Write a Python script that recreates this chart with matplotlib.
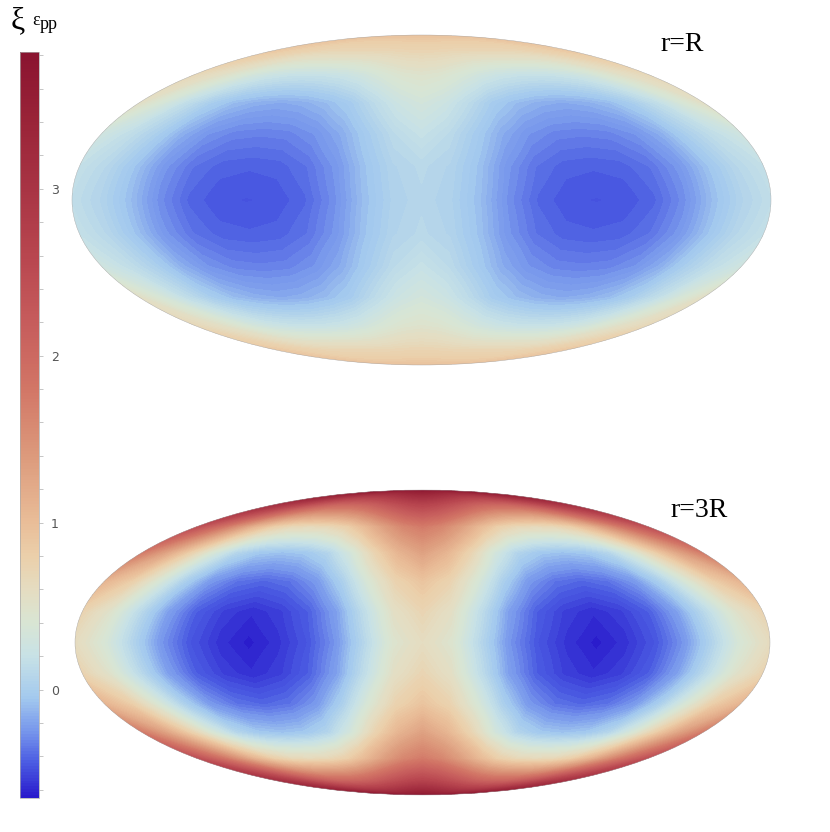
import numpy as np
import matplotlib
matplotlib.use("Agg")
import matplotlib.pyplot as plt
from matplotlib.colors import LinearSegmentedColormap, Normalize
from matplotlib.ticker import MultipleLocator
from matplotlib.cm import ScalarMappable

# grid nodes (degrees) of one quadrant, the rest is mirrored
lat_nodes = [0, 15, 30, 45, 60, 75, 90]
lon_nodes = [0, 15, 30, 45, 60, 75, 90, 105, 120, 135, 150, 165, 180]

xi_r1 = [
    [0.08, 0.03, -0.10, -0.28, -0.40, -0.45, -0.46, -0.45, -0.40, -0.28, -0.10, 0.05, 0.15],
    [0.10, 0.05, -0.08, -0.25, -0.36, -0.41, -0.42, -0.41, -0.36, -0.25, -0.08, 0.08, 0.18],
    [0.20, 0.12, -0.02, -0.16, -0.26, -0.31, -0.32, -0.31, -0.26, -0.15, 0.02, 0.16, 0.28],
    [0.32, 0.25, 0.12, -0.02, -0.10, -0.15, -0.17, -0.15, -0.10, 0.00, 0.15, 0.35, 0.55],
    [0.48, 0.45, 0.38, 0.30, 0.24, 0.21, 0.20, 0.21, 0.25, 0.33, 0.46, 0.58, 0.68],
    [0.72, 0.72, 0.71, 0.70, 0.70, 0.70, 0.70, 0.70, 0.71, 0.74, 0.78, 0.83, 0.88],
    [0.95, 0.95, 0.95, 0.95, 0.95, 0.95, 0.95, 0.95, 0.95, 0.95, 0.95, 0.95, 0.95],
]

xi_r3 = [
    [0.60, 0.45, 0.08, -0.26, -0.46, -0.57, -0.63, -0.57, -0.46, -0.26, 0.05, 0.38, 0.62],
    [0.72, 0.55, 0.16, -0.20, -0.42, -0.53, -0.58, -0.53, -0.42, -0.20, 0.12, 0.48, 0.74],
    [0.92, 0.75, 0.40, 0.02, -0.24, -0.36, -0.40, -0.36, -0.24, 0.02, 0.40, 0.82, 1.10],
    [1.32, 1.10, 0.75, 0.35, 0.07, -0.05, -0.08, -0.05, 0.08, 0.38, 0.82, 1.30, 1.75],
    [1.75, 1.62, 1.35, 1.05, 0.80, 0.68, 0.65, 0.68, 0.82, 1.12, 1.55, 2.00, 2.45],
    [2.65, 2.58, 2.45, 2.30, 2.15, 2.05, 2.02, 2.05, 2.18, 2.38, 2.65, 2.90, 3.10],
    [3.75, 3.75, 3.75, 3.75, 3.75, 3.75, 3.75, 3.75, 3.75, 3.75, 3.75, 3.75, 3.75],
]

vmin, vmax = -0.65, 3.82
cbar_ticks = [0, 1, 2, 3]

# colour scale
cmap_vals = [-0.65, -0.45, -0.25, -0.05, 0.2, 0.4, 0.6, 0.8, 1.0, 1.4, 1.8, 2.2, 2.6, 3.0, 3.4, 3.82]
cmap_cols = ["#2a1ccc", "#4a5ae2", "#7898ec", "#a4caee", "#c8e2e6", "#d9e5d3", "#e5dcc0",
             "#ebcfaa", "#e9bd98", "#dc9a7c", "#d27666", "#c65c5c", "#b8464f", "#a83444",
             "#9a2438", "#8a1430"]

pos = [(v - vmin) / (vmax - vmin) for v in cmap_vals]
cmap = LinearSegmentedColormap.from_list("thermo", list(zip(pos, cmap_cols)))
norm = Normalize(vmin, vmax)


def full_sphere(quad):
    q = np.array(quad)
    q = np.vstack([q[:0:-1], q])
    q = np.hstack([q[:, :0:-1], q])
    return q


lat = np.array(lat_nodes, dtype=float)
lon = np.array(lon_nodes, dtype=float)
lat_full = np.radians(np.concatenate([-lat[:0:-1], lat]))
lon_full = np.radians(np.concatenate([-lon[:0:-1], lon]))

fig = plt.figure(figsize=(8.3, 8.32), dpi=100)

levels = np.linspace(vmin, vmax, 140)
boxes = [[72 / 830, 1 - 365 / 832, 699 / 830, 330 / 832],
         [75 / 830, 1 - 795 / 832, 695 / 830, 305 / 832]]
for box, data in zip(boxes, [xi_r1, xi_r3]):
    ax = fig.add_axes(box, projection='mollweide')
    ax.set_aspect('auto')
    ax.contourf(lon_full, lat_full, full_sphere(data), levels=levels,
                cmap=cmap, norm=norm, extend='both')
    ax.set_xticks([])
    ax.set_yticks([])
    ax.grid(False)
    ax.spines['geo'].set_linewidth(0.3)
    ax.spines['geo'].set_edgecolor('#aaaaaa')

fig.text(660 / 830, 1 - 51 / 832, "r=R", fontsize=20, family='Liberation Serif', va='baseline')
fig.text(670 / 830, 1 - 517 / 832, "r=3R", fontsize=20, family='Liberation Serif', va='baseline')

# colour bar title: xi with superscript epsilon_pp
fig.text(11 / 830, 1 - 28 / 832, "ξ", fontsize=23, family='Liberation Serif', va='baseline')
fig.text(32 / 830, 1 - 25 / 832, "ε", fontsize=13, family='Liberation Serif', va='baseline')
fig.text(40 / 830, 1 - 29 / 832, "pp", fontsize=13, family='Liberation Serif', va='baseline')

# colour bar
cax = fig.add_axes([19.5 / 830, 1 - 798 / 832, 19 / 830, 746 / 832])
cb = fig.colorbar(ScalarMappable(norm=norm, cmap=cmap), cax=cax)
cb.set_ticks(cbar_ticks)
cb.ax.yaxis.set_minor_locator(MultipleLocator(0.2))
cb.ax.tick_params(which='both', right=True, length=3, width=0.6, color='#bbbbbb',
                  labelsize=9, labelcolor='#555555', pad=6)
cb.outline.set_edgecolor('#aaaaaa')
cb.outline.set_linewidth(0.5)

fig.savefig("out.png", dpi=100)
